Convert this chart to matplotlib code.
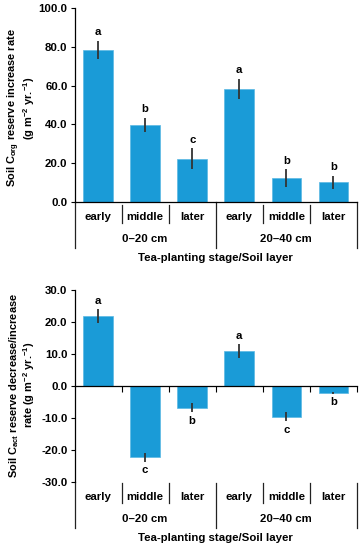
import matplotlib
matplotlib.use("Agg")
import matplotlib.pyplot as plt
from matplotlib import transforms

plt.rcParams['font.family'] = ['Liberation Sans', 'DejaVu Sans']
plt.rcParams['font.weight'] = 'bold'
plt.rcParams['mathtext.fontset'] = 'custom'
plt.rcParams['mathtext.rm'] = 'Liberation Sans:bold'
plt.rcParams['mathtext.it'] = 'Liberation Sans:bold'
plt.rcParams['mathtext.bf'] = 'Liberation Sans:bold'

stages = ["early", "middle", "later", "early", "middle", "later"]
layers = ["0\u201320 cm", "20\u201340 cm"]
xlabel = "Tea-planting stage/Soil layer"

corg_vals = [78.5, 39.8, 22.3, 58.4, 12.2, 10.1]
corg_err = [4.7, 3.6, 5.5, 5.2, 4.7, 3.4]
corg_letters = ["a", "b", "c", "a", "b", "b"]
corg_yticks = [0, 20, 40, 60, 80, 100]
corg_ylabel = ["Soil C$_{\\mathregular{org}}$ reserve increase rate",
               "(g m$^{\\mathregular{-2}}$ yr.$^{\\mathregular{-1}}$)"]

cact_vals = [21.8, -22.4, -6.8, 10.8, -9.6, -2.1]
cact_err = [2.2, 1.3, 1.5, 2.2, 1.5, 0.3]
cact_letters = ["a", "c", "b", "a", "c", "b"]
cact_yticks = [-30, -20, -10, 0, 10, 20, 30]
cact_ylabel = ["Soil C$_{\\mathregular{act}}$ reserve decrease/increase",
               "rate (g m$^{\\mathregular{-2}}$ yr.$^{\\mathregular{-1}}$)"]

W, H = 362, 550
fig = plt.figure(figsize=(W / 100, H / 100), dpi=100)

BAR = "#1a9bd7"
FS = 8.2
FSY = 7.9


def make_ax(top_px, bot_px):
    left, right = 74.5, 357
    return fig.add_axes([left / W, 1 - bot_px / H, (right - left) / W, (bot_px - top_px) / H])


def draw(ax, vals, errs, letters, yticks, ylim, ylabel, neg_axis, ylab_center):
    x = list(range(len(vals)))
    ax.bar(x, vals, width=0.63, color=BAR, edgecolor="#5ab8e3", linewidth=0.5, zorder=2)
    ax.errorbar(x, vals, yerr=errs, fmt="none", ecolor="#333333", elinewidth=1.3, capsize=0, zorder=3)
    for i, (v, e, l) in enumerate(zip(vals, errs, letters)):
        if v >= 0:
            ax.annotate(l, (i, v + e), xytext=(0, 2.5), textcoords="offset points",
                        ha="center", va="bottom", fontsize=FS, fontweight="bold")
        else:
            ax.annotate(l, (i, v - e), xytext=(0, -2.5), textcoords="offset points",
                        ha="center", va="top", fontsize=FS, fontweight="bold")
    ax.set_xlim(-0.5, len(vals) - 0.5)
    ax.set_ylim(*ylim)
    ax.set_yticks(yticks)
    ax.set_yticklabels([f"{t:.1f}" for t in yticks], fontsize=FS, fontweight="bold")
    ax.tick_params(axis="y", length=3, width=0.8, pad=2)
    for s in ["top", "right"]:
        ax.spines[s].set_visible(False)
    ax.spines["left"].set_linewidth(0.9)
    ax.spines["bottom"].set_linewidth(0.9)
    if neg_axis:
        ax.spines["bottom"].set_position(("data", 0))
        ax.set_xticks([i + 0.5 for i in range(len(vals))])
        ax.tick_params(axis="x", length=4, width=0.8, direction="out", labelbottom=False)
    else:
        ax.set_xticks([])

    # category table below axes
    hpx = ax.get_position().height * H
    fr = lambda px: -px / hpx
    tr = transforms.blended_transform_factory(ax.transData, ax.transAxes)
    top_sep = 3 if not neg_axis else 1.5
    for i in [0.5, 1.5, 3.5, 4.5]:
        ax.plot([i, i], [fr(top_sep), fr(21)], transform=tr, color="#222222", lw=0.9, clip_on=False)
    for i in [-0.5, 2.5, 5.5]:
        y0 = 0 if i == -0.5 else (fr(0) if not neg_axis else fr(1.5))
        ax.plot([i, i], [y0, fr(46)], transform=tr, color="#222222", lw=0.9, clip_on=False)
    for i, s in enumerate(stages):
        ax.text(i, fr(15), s, transform=tr, ha="center", va="center", fontsize=FS, fontweight="bold")
    for g, s in enumerate(layers):
        ax.text(1 + 3 * g, fr(37.5), s, transform=tr, ha="center", va="center", fontsize=FS, fontweight="bold")
    ax.text(2.5, fr(56), xlabel, transform=tr, ha="center", va="center", fontsize=FS, fontweight="bold")
    for xpx, line in zip([14.0, 29.0], ylabel):
        fig.text(xpx / W, 1 - ylab_center / H, line, rotation=90, ha="center", va="center",
                 fontsize=FSY, fontweight="bold")


ax1 = make_ax(8, 202)
draw(ax1, corg_vals, corg_err, corg_letters, corg_yticks, (0, 100), corg_ylabel, False, 108)

ax2 = make_ax(290, 481.7)
draw(ax2, cact_vals, cact_err, cact_letters, cact_yticks, (-30, 30), cact_ylabel, True, 385)

fig.savefig("out.png", dpi=100)
